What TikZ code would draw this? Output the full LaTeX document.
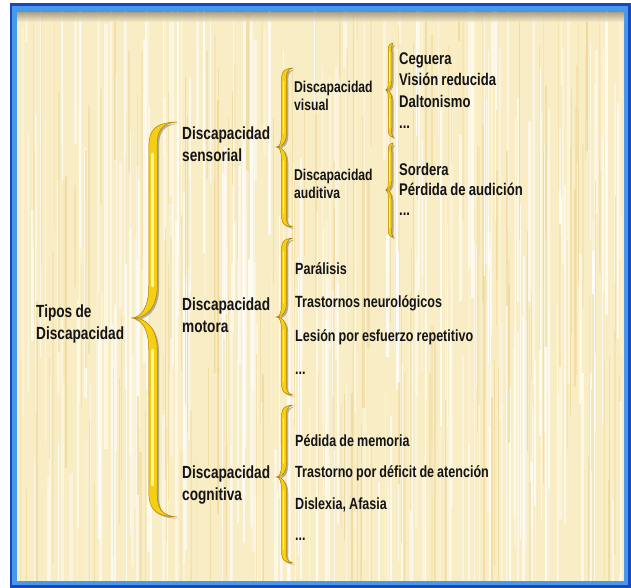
\documentclass[tikz,border=0pt]{standalone}
\usepackage{fontspec}
\newfontfamily\narrowfont{Liberation Sans}[FakeStretch=0.775,WordSpace=0.88]
\usetikzlibrary{positioning}
\definecolor{parch}{RGB}{249,237,198}
\definecolor{streak}{RGB}{238,214,148}
\definecolor{framedark}{RGB}{24,72,192}
\definecolor{framelight}{RGB}{72,152,236}
\definecolor{gold}{RGB}{246,206,18}
\definecolor{golddark}{RGB}{176,130,8}
\definecolor{goldlight}{RGB}{255,246,150}

\begin{document}
\begin{tikzpicture}[x=1pt,y=-1pt,node distance=7pt,
  main node/.style={anchor=west,align=left,inner sep=0pt,text=black!92,
    font=\narrowfont\bfseries\fontsize{17.6}{22.5}\selectfont},
  sub node/.style={main node,font=\narrowfont\bfseries\fontsize{15.7}{18.5}\selectfont},
  list node/.style={inner sep=0pt,text height=11.5pt,text depth=3pt,
    text=black!92,font=\narrowfont\bfseries\fontsize{16.2}{18}\selectfont},
  big list/.style={list node,font=\narrowfont\bfseries\fontsize{16.9}{18}\selectfont},
  pics/brace arm/.style n args={6}{code={
    \fill[gold,draw=golddark,line width=.5pt,
      preaction={fill=black,opacity=.28,transform canvas={xshift=1.8pt,yshift=-1.8pt}}]
      (#3,{-#6*#1})
      .. controls ({#2-#4/2},{-#6*(#1-1)}) and ({#2-#4/2},{-#6*(#1-0.4*#5)}) .. ({#2-#4/2},{-#6*(#1-#5)})
      -- ({#2-#4/2},{-#6*#5})
      .. controls ({#2-#4/2},{-#6*0.35*#5}) and ({0.45*#2},{-#6*0.06*#5}) .. (0,0)
      .. controls ({0.6*#2},{#6*0.02*#5}) and ({#2+#4/2},{-#6*0.3*#5}) .. ({#2+#4/2},{-#6*#5})
      -- ({#2+#4/2},{-#6*(#1-#5)})
      .. controls ({#2+#4/2},{-#6*(#1-0.5*#5)}) and ({#2+#4/4},{-#6*(#1-2)}) .. (#3,{-#6*#1})
      -- cycle;
    \draw[goldlight,line width={#4/3},line cap=round] ({#2-#4/10},{-#6*(#1-#5)}) -- ({#2-#4/10},{-#6*#5});
  }},
  pics/gold brace/.style n args={6}{code={
    \pic {brace arm={#1}{#3}{#4}{#5}{#6}{1}};
    \pic {brace arm={#2}{#3}{#4}{#5}{#6}{-1}};
  }}]
  \useasboundingbox (0,0) rectangle (631,588);
  % frame and paper
  \fill[white] (0,0) rectangle (631,588);
  \fill[framedark] (10,3) rectangle (631,588);
  \fill[framelight] (12,6) rectangle (628,585);
  \fill[parch] (17,12) rectangle (624,581);
  \begin{scope}
    \clip (17,12) rectangle (624,580);
    \pgfmathsetseed{42}
    \foreach \i in {1,...,280}{
      \pgfmathsetmacro{\sx}{17+605*rnd}
      \pgfmathsetmacro{\sy}{-100+600*rnd}
      \pgfmathsetmacro{\sl}{120+320*rnd}
      \pgfmathsetmacro{\sw}{0.6+2.6*rnd}
      \pgfmathsetmacro{\so}{0.25+0.5*rnd}
      \fill[white,opacity=\so] (\sx,\sy) rectangle ++(\sw,\sl);
    }
    \foreach \i in {1,...,170}{
      \pgfmathsetmacro{\sx}{17+605*rnd}
      \pgfmathsetmacro{\sy}{-100+600*rnd}
      \pgfmathsetmacro{\sl}{80+260*rnd}
      \pgfmathsetmacro{\sw}{0.5+1.8*rnd}
      \pgfmathsetmacro{\so}{0.25+0.45*rnd}
      \fill[streak,opacity=\so] (\sx,\sy) rectangle ++(\sw,\sl);
    }
    \shade[top color=black!40!parch,bottom color=parch,opacity=.8] (17,12) rectangle (624,22);
  \end{scope}

  % braces
  \pic at (133,318) {gold brace={196}{199}{20}{44}{8.5}{32}};
  \pic at (277,147) {gold brace={79}{80}{7}{16}{5}{14}};
  \pic at (277,317) {gold brace={79}{78}{7}{16}{5}{14}};
  \pic at (277,477) {gold brace={72}{86}{7}{16}{5}{14}};
  \pic at (386,90) {gold brace={47}{47}{4}{7}{3.5}{9}};
  \pic at (386,190) {gold brace={47}{47}{4}{7}{3.5}{9}};

  % labels
  \node[main node] (1) at (36,324) {Tipos de\\Discapacidad};
  \node[main node] (2) at (182,144) {Discapacidad\\sensorial};
  \node[main node] (3) at (182,315) {Discapacidad\\motora};
  \node[main node] (4) at (182,485) {Discapacidad\\cognitiva};
  \node[sub node] (5) at (294,96) {Discapacidad\\visual};
  \node[sub node] (6) at (294,184) {Discapacidad\\auditiva};

  \node[big list,anchor=west] (7) at (399,60) {Ceguera};
  \node[big list] (8) [below=6.5pt of 7.south west,anchor=north west] {Visión reducida};
  \node[big list] (9) [below=6.5pt of 8.south west,anchor=north west] {Daltonismo};
  \node[big list] (10) [below=6.5pt of 9.south west,anchor=north west] {...};

  \node[big list,anchor=west] (11) at (399,171) {Sordera};
  \node[big list] (12) [below=5pt of 11.south west,anchor=north west] {Pérdida de audición};
  \node[big list] (13) [below=5pt of 12.south west,anchor=north west] {...};

  \node[list node,anchor=west] (14) at (295,270) {Parálisis};
  \node[list node] (15) [below=18.5pt of 14.south west,anchor=north west] {Trastornos neurológicos};
  \node[list node] (16) [below=18.5pt of 15.south west,anchor=north west] {Lesión por esfuerzo repetitivo};
  \node[list node] (17) [below=18.5pt of 16.south west,anchor=north west] {...};

  \node[list node,anchor=west] (18) at (295,442) {Pédida de memoria};
  \node[list node] (19) [below=16.5pt of 18.south west,anchor=north west] {Trastorno por déficit de atención};
  \node[list node] (20) [below=16.5pt of 19.south west,anchor=north west] {Dislexia, Afasia};
  \node[list node] (21) [below=16.5pt of 20.south west,anchor=north west] {...};
\end{tikzpicture}
\end{document}
